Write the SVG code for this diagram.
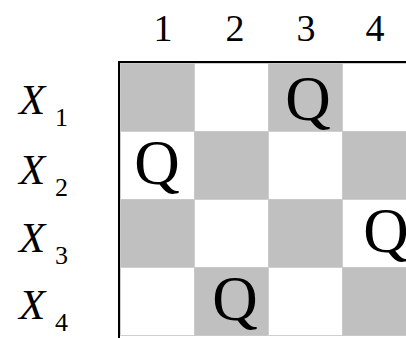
<svg xmlns="http://www.w3.org/2000/svg" width="406" height="338" viewBox="0 0 406 338">
<style>
.g{fill:#c0c0c0;stroke:#c8c8c8;stroke-width:1}
.w{fill:#ffffff;stroke:#cfcfcf;stroke-width:1}
text{font-family:'Liberation Serif','Times New Roman',Times,serif;fill:#000}
.col{font-size:38px;text-anchor:middle}
.x{font-size:43px;font-style:italic}
.s{font-size:26px}
.q{font-size:63px;text-anchor:middle}
</style>
<rect width="406" height="338" fill="#fff"/>
<g id="col-labels">
<text class="col" x="163" y="41">1</text>
<text class="col" x="235" y="41">2</text>
<text class="col" x="306" y="41">3</text>
<text class="col" x="375" y="41">4</text>
</g>
<g id="row-labels">
<g id="x1"><text class="x" x="19" y="114">X</text><text class="s" x="55" y="126">1</text></g>
<g id="x2"><text class="x" x="19" y="184">X</text><text class="s" x="55" y="196">2</text></g>
<g id="x3"><text class="x" x="19" y="252">X</text><text class="s" x="55" y="264">3</text></g>
<g id="x4"><text class="x" x="19" y="319">X</text><text class="s" x="55" y="331">4</text></g>
</g>
<g id="board">
<g id="row1">
<rect class="g" x="120.5" y="63.5" width="74" height="68"/>
<rect class="w" x="194.5" y="63.5" width="74" height="68"/>
<rect class="g" x="268.5" y="63.5" width="74" height="68"/>
<rect class="w" x="342.5" y="63.5" width="74" height="68"/>
</g>
<g id="row2">
<rect class="w" x="120.5" y="131.5" width="74" height="68"/>
<rect class="g" x="194.5" y="131.5" width="74" height="68"/>
<rect class="w" x="268.5" y="131.5" width="74" height="68"/>
<rect class="g" x="342.5" y="131.5" width="74" height="68"/>
</g>
<g id="row3">
<rect class="g" x="120.5" y="199.5" width="74" height="68"/>
<rect class="w" x="194.5" y="199.5" width="74" height="68"/>
<rect class="g" x="268.5" y="199.5" width="74" height="68"/>
<rect class="w" x="342.5" y="199.5" width="74" height="68"/>
</g>
<g id="row4">
<rect class="w" x="120.5" y="267.5" width="74" height="68"/>
<rect class="g" x="194.5" y="267.5" width="74" height="68"/>
<rect class="w" x="268.5" y="267.5" width="74" height="68"/>
<rect class="g" x="342.5" y="267.5" width="74" height="68"/>
</g>
<line x1="119" y1="61" x2="119" y2="338" stroke="#000" stroke-width="2"/>
<line x1="118" y1="62" x2="406" y2="62" stroke="#000" stroke-width="2"/>
</g>
<g id="queens">
<text class="q" x="308" y="120">Q</text>
<text class="q" x="157" y="184">Q</text>
<text class="q" x="386" y="252">Q</text>
<text class="q" x="235" y="320">Q</text>
</g>
</svg>
